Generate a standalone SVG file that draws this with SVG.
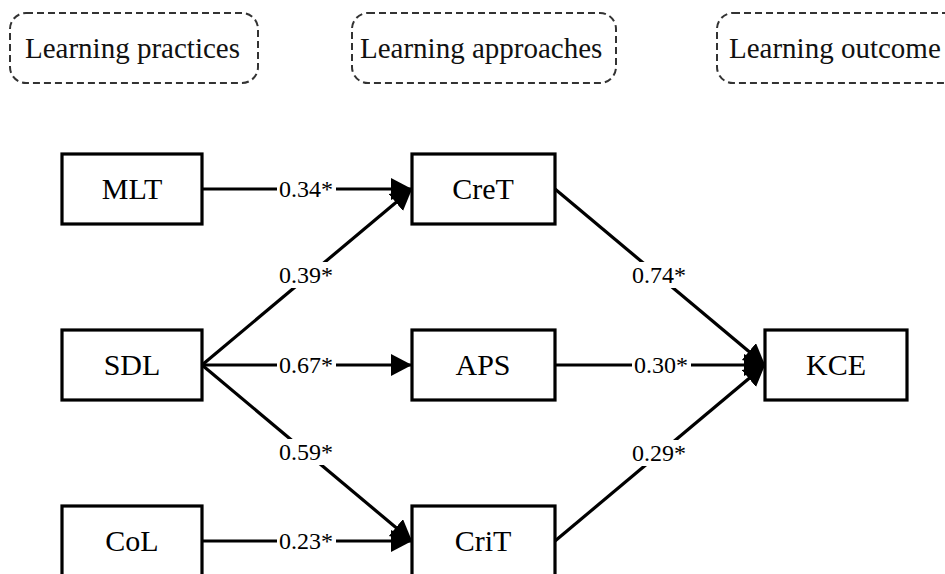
<svg xmlns="http://www.w3.org/2000/svg" width="945" height="574" viewBox="0 0 945 574" font-family="'Liberation Serif', 'Times New Roman', Times, serif">
<style>
text{font-family:'Liberation Serif','Times New Roman',Times,serif;fill:#000}
.hdr rect{fill:none;stroke:#333;stroke-width:2;stroke-dasharray:7 4}
.hdr text{font-size:29px;fill:#111}
.node rect{fill:#fff;stroke:#000;stroke-width:3.2}
.node text{font-size:30px;text-anchor:middle}
.edge line{stroke:#000;stroke-width:3.2;marker-end:url(#ah)}
.lbl rect{fill:#fff}
.lbl text{font-size:24px;text-anchor:middle}
</style>
<defs>
<marker id="ah" markerUnits="userSpaceOnUse" markerWidth="24" markerHeight="24" refX="21" refY="11" orient="auto">
<path d="M0,0 L21,11 L0,22 Z" fill="#000"/>
</marker>
</defs>
<rect width="945" height="574" fill="#fff"/>
<g id="hdr-practices" class="hdr"><rect x="10" y="13" width="248" height="70" rx="16"/><text x="25" y="58">Learning practices</text></g>
<g id="hdr-approaches" class="hdr"><rect x="352" y="13" width="264" height="70" rx="16"/><text x="360" y="58">Learning approaches</text></g>
<g id="hdr-outcome" class="hdr"><rect x="717" y="13" width="264" height="70" rx="16"/><text x="729" y="58">Learning outcome</text></g>
<g id="connectors" class="edge">
<line x1="202" y1="189" x2="412" y2="189"/>
<line x1="202" y1="365" x2="412" y2="189"/>
<line x1="202" y1="365" x2="412" y2="365"/>
<line x1="202" y1="365" x2="412" y2="541"/>
<line x1="202" y1="541" x2="412" y2="541"/>
<line x1="555" y1="189" x2="765" y2="365"/>
<line x1="555" y1="365" x2="765" y2="365"/>
<line x1="555" y1="541" x2="765" y2="365"/>
</g>
<g id="labels" class="lbl">
<rect x="277" y="178" width="59" height="22"/><text x="306" y="197">0.34*</text>
<rect x="277" y="262" width="59" height="26"/><text x="306" y="283">0.39*</text>
<rect x="277" y="354" width="59" height="22"/><text x="306" y="373">0.67*</text>
<rect x="277" y="439" width="59" height="26"/><text x="306" y="460">0.59*</text>
<rect x="277" y="530" width="59" height="22"/><text x="306" y="549">0.23*</text>
<rect x="630" y="262" width="59" height="26"/><text x="659" y="283">0.74*</text>
<rect x="632" y="354" width="59" height="22"/><text x="661" y="373">0.30*</text>
<rect x="630" y="440" width="59" height="26"/><text x="659" y="461">0.29*</text>
</g>
<g id="MLT" class="node"><rect x="62" y="154" width="140" height="70"/><text x="132" y="199">MLT</text></g>
<g id="SDL" class="node"><rect x="62" y="330" width="140" height="70"/><text x="132" y="375">SDL</text></g>
<g id="CoL" class="node"><rect x="62" y="506" width="140" height="70"/><text x="132" y="551">CoL</text></g>
<g id="CreT" class="node"><rect x="412" y="154" width="143" height="70"/><text x="483" y="199">CreT</text></g>
<g id="APS" class="node"><rect x="412" y="330" width="143" height="70"/><text x="483" y="375">APS</text></g>
<g id="CriT" class="node"><rect x="412" y="506" width="143" height="70"/><text x="483" y="551">CriT</text></g>
<g id="KCE" class="node"><rect x="765" y="330" width="142" height="70"/><text x="836" y="375">KCE</text></g>
</svg>
